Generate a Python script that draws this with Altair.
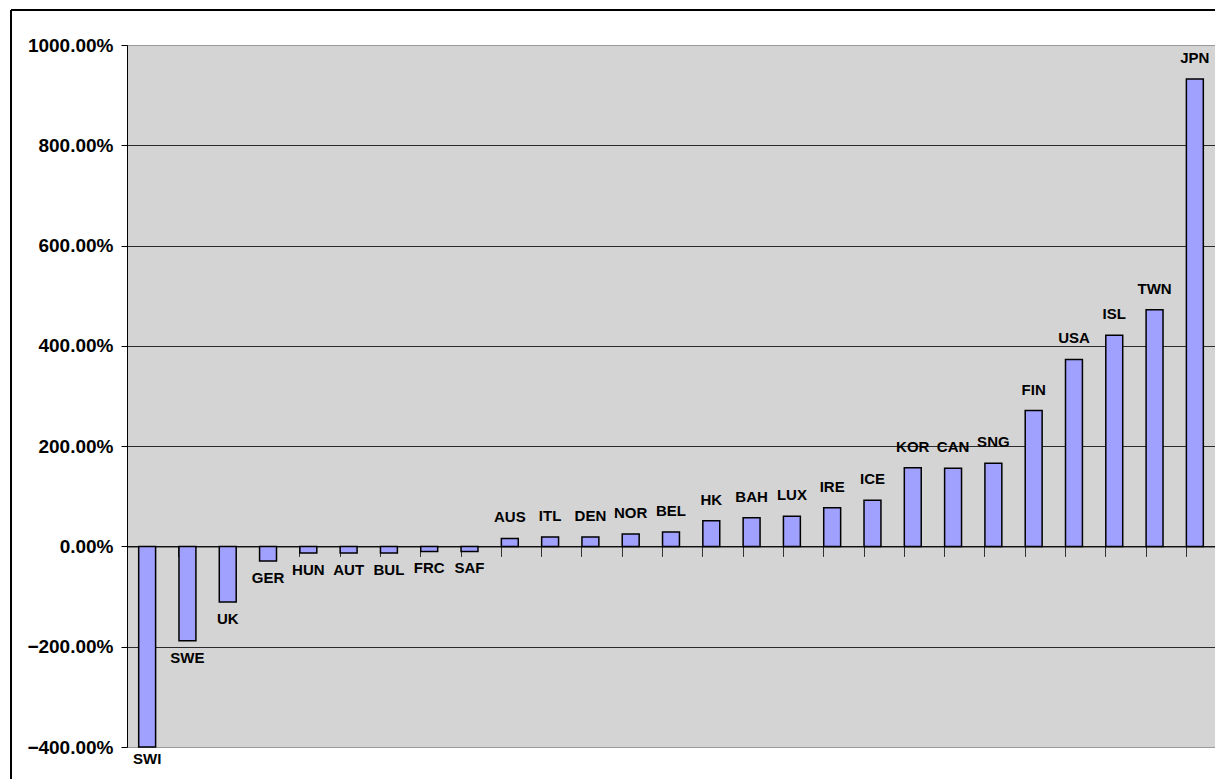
import altair as alt
import pandas as pd

countries = ["SWI", "SWE", "UK", "GER", "HUN", "AUT", "BUL", "FRC", "SAF",
             "AUS", "ITL", "DEN", "NOR", "BEL", "HK", "BAH", "LUX", "IRE",
             "ICE", "KOR", "CAN", "SNG", "FIN", "USA", "ISL", "TWN", "JPN"]
values = [-400, -188, -111, -29, -13, -13, -13, -10, -10,
          16, 19, 19, 25, 29, 51, 57, 60, 77,
          92, 157, 156, 166, 271, 373, 421, 472, 932]
y_ticks = [-400, -200, 0, 200, 400, 600, 800, 1000]

df = pd.DataFrame({"country": countries, "value": values})

W, H = 1088, 702
FONT = "Liberation Sans"

x_enc = alt.X(
    "country:N", sort=countries,
    scale=alt.Scale(paddingInner=0.58, paddingOuter=0.29),
    axis=alt.Axis(
        title=None, labels=False, bandPosition=0,
        offset=-(H * 400 / 1400), domainColor="#000000", domainWidth=1,
        tickColor="#333333", tickSize=10, tickWidth=1,
    ),
)
y_enc = alt.Y(
    "value:Q",
    scale=alt.Scale(domain=[-400, 1000], nice=False, zero=False),
    axis=alt.Axis(
        title=None, values=y_ticks,
        labelExpr="format(datum.value, '.2f') + '%'",
        labelFont=FONT, labelFontSize=19, labelFontWeight="bold",
        labelColor="#000000", labelPadding=8,
        tickSize=6, tickColor="#000000", domainColor="#000000",
        grid=True,
        gridColor={"condition": {"test": "datum.value == 1000 || datum.value == -400",
                                 "value": "#9a9a9a"},
                   "value": "#2a2a2a"},
        gridWidth=1,
    ),
)

bars = alt.Chart(df).mark_bar(
    color="#a0a0ff", stroke="#000000", strokeWidth=1.5
).encode(x=x_enc, y=y_enc, y2=alt.datum(0))

label_style = dict(font=FONT, fontSize=15, fontWeight="bold", color="#000000",
                   baseline="middle")
label_enc = dict(x=alt.X("country:N", sort=countries), y="value:Q", text="country:N")

labels_pos = alt.Chart(df).transform_filter("datum.value >= 0").mark_text(
    dy=-21, **label_style
).encode(**label_enc)

labels_neg = alt.Chart(df).transform_filter(
    "datum.value < 0 && datum.value > -400"
).mark_text(dy=17, **label_style).encode(**label_enc)

# the bar reaching the axis floor gets its label tucked closer
labels_floor = alt.Chart(df).transform_filter("datum.value <= -400").mark_text(
    dy=12, **label_style
).encode(**label_enc)

# outer frame around the chart
frame_left = alt.Chart(df).mark_rule(color="#000000", strokeWidth=1.5).encode(
    x=alt.value(-116), y=alt.value(-35), y2=alt.value(H + 40)
)
frame_top = alt.Chart(df).mark_rule(color="#000000", strokeWidth=1.5).encode(
    x=alt.value(-116), x2=alt.value(W + 10), y=alt.value(-35)
)

chart = alt.layer(
    bars, labels_pos, labels_neg, labels_floor, frame_left, frame_top
).properties(
    width=W, height=H,
    autosize=alt.AutoSizeParams(type="none"),
    padding={"left": 127, "top": 45, "right": 0, "bottom": 32},
    background="#ffffff",
).configure_view(
    fill="#d4d4d4", stroke="#9a9a9a", strokeWidth=1
)

chart.save("out.html", embed_options={"renderer": "svg", "actions": False})
